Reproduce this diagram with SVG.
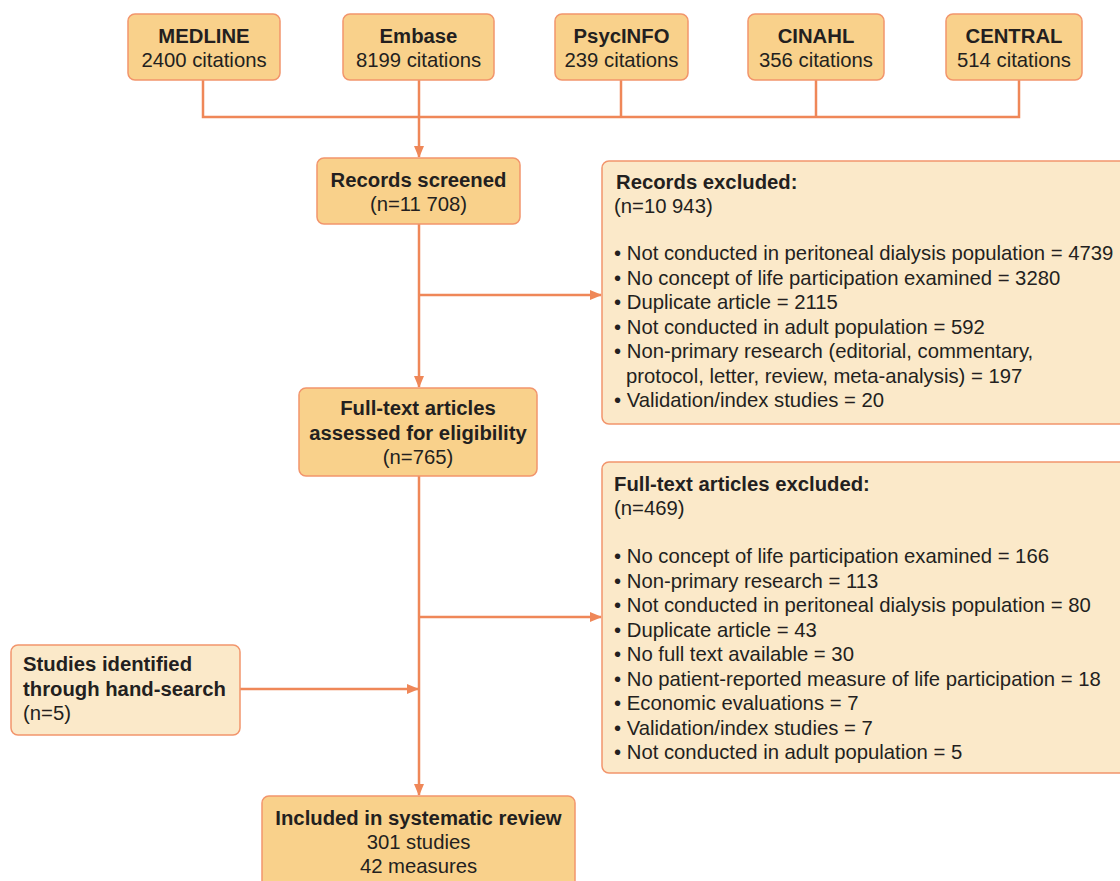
<svg xmlns="http://www.w3.org/2000/svg" width="1120" height="881" viewBox="0 0 1120 881">
<style>
.main{fill:#f9d18b;stroke:#f2956c;stroke-width:1.5}
.light{fill:#fbe9c9;stroke:#f2956c;stroke-width:1.5}
text{font-family:"Liberation Sans",Arial,sans-serif;font-size:20.3px;fill:#231f20}
.b{font-weight:bold}
.c{text-anchor:middle}
.ln{fill:none;stroke:#ef8758;stroke-width:2.5}
</style>
<defs>
<marker id="ah" markerUnits="userSpaceOnUse" markerWidth="12" markerHeight="10" refX="11" refY="5" orient="auto">
<path d="M0,0 L12,5 L0,10 z" fill="#ef8758"/>
</marker>
</defs>
<rect width="1120" height="881" fill="#ffffff"/>
<g id="connectors">
<path class="ln" d="M203,80 V117 H1019 V80"/>
<path class="ln" d="M621,80 V117"/>
<path class="ln" d="M816,80 V117"/>
<path class="ln" d="M419,80 V157" marker-end="url(#ah)"/>
<path class="ln" d="M419,224 V387" marker-end="url(#ah)"/>
<path class="ln" d="M419,295 H601" marker-end="url(#ah)"/>
<path class="ln" d="M419,476 V795" marker-end="url(#ah)"/>
<path class="ln" d="M419,617 H601" marker-end="url(#ah)"/>
<path class="ln" d="M240,689 H418" marker-end="url(#ah)"/>
</g>
<g id="medline">
<rect class="main" x="128" y="14" width="152" height="66" rx="7"/>
<text class="b c" x="204" y="43">MEDLINE</text>
<text class="c" x="204" y="67">2400 citations</text>
</g>
<g id="embase">
<rect class="main" x="343" y="14" width="151" height="66" rx="7"/>
<text class="b c" x="418.5" y="43">Embase</text>
<text class="c" x="418.5" y="67">8199 citations</text>
</g>
<g id="psycinfo">
<rect class="main" x="555" y="14" width="133" height="66" rx="7"/>
<text class="b c" x="621.5" y="43">PsycINFO</text>
<text class="c" x="621.5" y="67">239 citations</text>
</g>
<g id="cinahl">
<rect class="main" x="748" y="14" width="136" height="66" rx="7"/>
<text class="b c" x="816" y="43">CINAHL</text>
<text class="c" x="816" y="67">356 citations</text>
</g>
<g id="central">
<rect class="main" x="946" y="14" width="136" height="66" rx="7"/>
<text class="b c" x="1014" y="43">CENTRAL</text>
<text class="c" x="1014" y="67">514 citations</text>
</g>
<g id="records-screened">
<rect class="main" x="317" y="158" width="203" height="66" rx="7"/>
<text class="b c" x="418.5" y="187">Records screened</text>
<text class="c" x="418.5" y="211">(n=11 708)</text>
</g>
<g id="records-excluded">
<rect class="light" x="602" y="161" width="540" height="263" rx="7"/>
<text class="b" x="616" y="189">Records excluded:</text>
<text x="614" y="213">(n=10 943)</text>
<text x="614" y="260">• Not conducted in peritoneal dialysis population = 4739</text>
<text x="614" y="284.5">• No concept of life participation examined = 3280</text>
<text x="614" y="309">• Duplicate article = 2115</text>
<text x="614" y="333.5">• Not conducted in adult population = 592</text>
<text x="614" y="358">• Non-primary research (editorial, commentary,</text>
<text x="626" y="382.5">protocol, letter, review, meta-analysis) = 197</text>
<text x="614" y="407">• Validation/index studies = 20</text>
</g>
<g id="full-text-assessed">
<rect class="main" x="299" y="388" width="238" height="88" rx="7"/>
<text class="b c" x="418" y="415">Full-text articles</text>
<text class="b c" x="418" y="440">assessed for eligibility</text>
<text class="c" x="418" y="464">(n=765)</text>
</g>
<g id="full-text-excluded">
<rect class="light" x="602" y="462" width="540" height="311" rx="7"/>
<text class="b" x="614" y="491">Full-text articles excluded:</text>
<text x="614" y="515">(n=469)</text>
<text x="614" y="563">• No concept of life participation examined = 166</text>
<text x="614" y="587.5">• Non-primary research = 113</text>
<text x="614" y="612">• Not conducted in peritoneal dialysis population = 80</text>
<text x="614" y="636.5">• Duplicate article = 43</text>
<text x="614" y="661">• No full text available = 30</text>
<text x="614" y="685.5">• No patient-reported measure of life participation = 18</text>
<text x="614" y="710">• Economic evaluations = 7</text>
<text x="614" y="734.5">• Validation/index studies = 7</text>
<text x="614" y="759">• Not conducted in adult population = 5</text>
</g>
<g id="hand-search">
<rect class="light" x="11" y="645" width="229" height="90" rx="7"/>
<text class="b" x="23" y="671">Studies identified</text>
<text class="b" x="23" y="696">through hand-search</text>
<text x="23" y="720">(n=5)</text>
</g>
<g id="included">
<rect class="main" x="262" y="796" width="313" height="100" rx="7"/>
<text class="b c" x="418.5" y="825">Included in systematic review</text>
<text class="c" x="418.5" y="849">301 studies</text>
<text class="c" x="418.5" y="873">42 measures</text>
</g>
</svg>
